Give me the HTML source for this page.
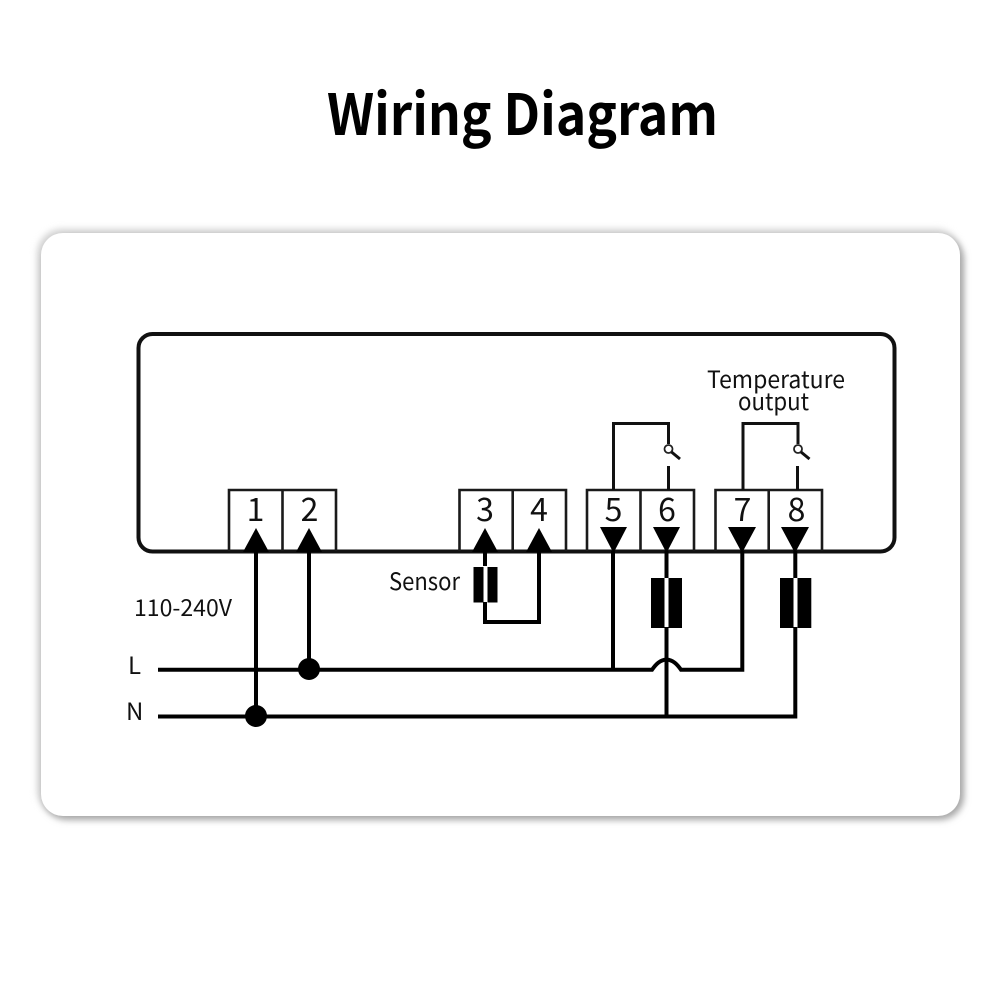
<!DOCTYPE html>
<html>
<head>
<meta charset="utf-8">
<style>
html,body{margin:0;padding:0;background:#fff;width:1000px;height:1000px;overflow:hidden}
svg{display:block}
text{font-family:"Noto Sans CJK SC","Liberation Sans",sans-serif;fill:#111}
.w{fill:none;stroke:#000;stroke-width:4}
.t{fill:none;stroke:#1a1a1a;stroke-width:2.6}
.f{fill:none;stroke:#111;stroke-width:3}
</style>
</head>
<body>
<svg width="1000" height="1000" viewBox="0 0 1000 1000" xmlns="http://www.w3.org/2000/svg">
<defs>
<filter id="s" x="-5%" y="-5%" width="110%" height="110%"><feGaussianBlur stdDeviation="3.5"/></filter>
</defs>
<rect width="1000" height="1000" fill="#fff"/>
<text x="327" y="135" font-size="57" font-weight="700" textLength="391" lengthAdjust="spacingAndGlyphs" style="fill:#000">Wiring Diagram</text>

<rect x="37" y="229" width="924" height="586" rx="25" fill="#d4d4d4" filter="url(#s)"/>
<rect x="43" y="236" width="921" height="584" rx="24" fill="#a8a8a8" filter="url(#s)"/>
<rect x="41" y="233" width="919" height="583" rx="22" fill="#fff"/>

<!-- housing -->
<rect x="138.500" y="334" width="756" height="217.500" rx="14" fill="none" stroke="#111" stroke-width="4"/>

<!-- terminal blocks -->
<path class="t" d="M229 551V490H336V551M282.500 490V551"/>
<path class="t" d="M459.500 551V490H566V551M512.700 490V551"/>
<path class="t" d="M587 551V490H694V551M640.500 490V551"/>
<path class="t" d="M715.500 551V490H822V551M768.700 490V551"/>

<!-- numbers -->
<g font-size="32" text-anchor="middle">
<text x="255.500" y="521">1</text>
<text x="309.500" y="521">2</text>
<text x="485" y="521">3</text>
<text x="539" y="521">4</text>
<text x="613.500" y="521">5</text>
<text x="667" y="521">6</text>
<text x="742.500" y="521">7</text>
<text x="796.500" y="521">8</text>
</g>

<!-- arrowheads up -->
<g fill="#000">
<path d="M256 528L243 552H269Z"/>
<path d="M309 528L296 552H322Z"/>
<path d="M485 528L472 552H498Z"/>
<path d="M539 528L526 552H552Z"/>
<!-- arrowheads down -->
<path d="M600 527H627L613.500 553Z"/>
<path d="M653 527H680L666.500 553Z"/>
<path d="M728 527H756L742 553Z"/>
<path d="M781 527H809L795 553Z"/>
</g>

<!-- switches -->
<path class="f" d="M613.500 490V423.500H668.500V444"/>
<circle cx="668.500" cy="449" r="4" fill="#fff" stroke="#222" stroke-width="1.800"/>
<path class="f" d="M671.500 452L680 459M668.500 466V490"/>
<path class="f" d="M743 490V423.500H798V444"/>
<circle cx="798" cy="449" r="4" fill="#fff" stroke="#222" stroke-width="1.800"/>
<path class="f" d="M801 452L809.500 459M797.500 466V490"/>

<!-- power wiring -->
<path class="w" d="M256 551V716"/>
<path class="w" d="M309 551V669"/>
<path class="w" d="M613 551V670"/>
<path class="w" d="M666.500 551V578M666.500 627V716"/>
<path class="w" d="M795.300 551V578M795.300 627V716.500H158"/>
<path class="w" d="M158 669.800H652C656 664 660 660 666.500 659.500C673 660 677 664 681 669.800H742.300V551"/>
<circle cx="309" cy="669" r="11" fill="#000"/>
<circle cx="256" cy="716" r="11" fill="#000"/>

<!-- relay coils -->
<rect x="651" y="578" width="13.500" height="50" fill="#000"/>
<rect x="668.500" y="578" width="13.500" height="50" fill="#000"/>
<rect x="780" y="578" width="13.500" height="50" fill="#000"/>
<rect x="797.500" y="578" width="13.800" height="50" fill="#000"/>

<!-- sensor -->
<path class="w" d="M485 551V566M485 602V622H539V551"/>
<rect x="473.500" y="567" width="10" height="35.500" fill="#000"/>
<rect x="487.500" y="567" width="10" height="35.500" fill="#000"/>

<!-- labels -->
<g font-size="24">
<text x="707" y="388" textLength="138" lengthAdjust="spacingAndGlyphs">Temperature</text>
<text x="738" y="410" textLength="71" lengthAdjust="spacingAndGlyphs">output</text>
<text x="389" y="590" textLength="71" lengthAdjust="spacingAndGlyphs">Sensor</text>
<text x="134" y="616" font-size="23" textLength="98" lengthAdjust="spacingAndGlyphs">110-240V</text>
<text x="128" y="674">L</text>
<text x="126" y="720">N</text>
</g>
</svg>
</body>
</html>
